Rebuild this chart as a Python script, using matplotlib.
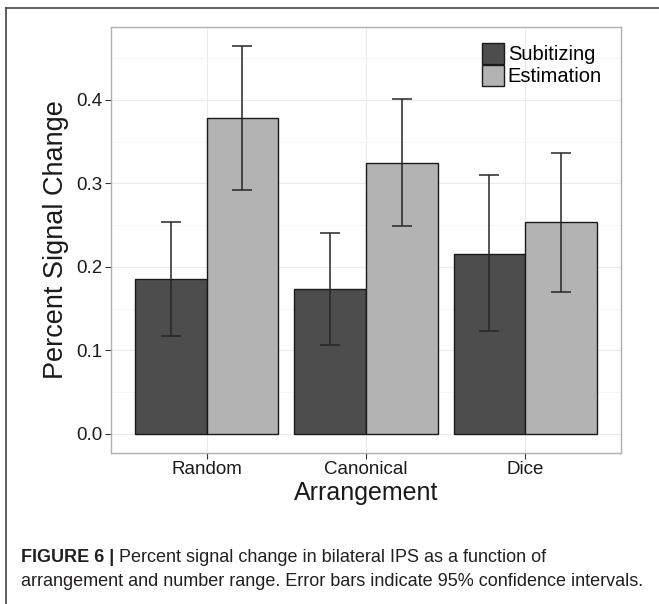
import numpy as np
import matplotlib

matplotlib.use("Agg")

import matplotlib.pyplot as plt
from matplotlib.lines import Line2D
from matplotlib.patches import Patch

arrangements = ["Random", "Canonical", "Dice"]
groups = ["Subitizing", "Estimation"]
group_colors = ["#4d4d4d", "#b3b3b3"]

subitizing_mean = [0.186, 0.174, 0.216]
subitizing_low = [0.117, 0.107, 0.123]
subitizing_high = [0.254, 0.241, 0.310]

estimation_mean = [0.378, 0.325, 0.254]
estimation_low = [0.292, 0.249, 0.170]
estimation_high = [0.465, 0.401, 0.336]

y_ticks = [0.0, 0.1, 0.2, 0.3, 0.4]
caption_bold = "FIGURE 6 |"
caption_line1 = " Percent signal change in bilateral IPS as a function of"
caption_line2 = "arrangement and number range. Error bars indicate 95% confidence intervals."

plt.rcParams["font.family"] = ["Liberation Sans", "DejaVu Sans"]

fig = plt.figure(figsize=(6.59, 6.04), dpi=100)
ax = fig.add_axes([0.1684, 0.25, 0.7739, 0.7053])

x = np.arange(1, len(arrangements) + 1)
bar_width = 0.45
series = [
    (subitizing_mean, subitizing_low, subitizing_high),
    (estimation_mean, estimation_low, estimation_high),
]

for i, (means, lows, highs) in enumerate(series):
    means = np.array(means)
    offset = (i - 0.5) * bar_width
    ax.bar(
        x + offset,
        means,
        width=bar_width,
        color=group_colors[i],
        edgecolor="#1a1a1a",
        linewidth=1.0,
        zorder=2,
    )
    yerr = [means - np.array(lows), np.array(highs) - means]
    ax.errorbar(
        x + offset,
        means,
        yerr=yerr,
        fmt="none",
        ecolor="#262626",
        elinewidth=1.1,
        capsize=7,
        capthick=1.1,
        zorder=3,
    )

ax.set_xlim(0.4, 3.6)
ax.set_ylim(-0.0228, 0.4874)
ax.set_xticks(x)
ax.set_xticklabels(arrangements)
ax.set_yticks(y_ticks)
ax.set_yticklabels([f"{t:.1f}" for t in y_ticks])
ax.set_yticks(np.arange(0.05, 0.5, 0.1), minor=True)

ax.grid(True, which="major", color="#ebebeb", linewidth=0.8, zorder=0)
ax.grid(True, which="minor", axis="y", color="#f5f5f5", linewidth=0.6, zorder=0)
ax.set_axisbelow(True)

for spine in ax.spines.values():
    spine.set_color("#b0b0b0")
    spine.set_linewidth(1.0)

ax.tick_params(axis="both", which="major", length=4, width=0.8, color="#333333",
               labelsize=13.5, labelcolor="#1a1a1a", pad=2)
ax.tick_params(axis="both", which="minor", length=0)

ax.set_xlabel("Arrangement", fontsize=18, color="#1a1a1a", labelpad=2)
ax.set_ylabel("Percent Signal Change", fontsize=19.5, color="#1a1a1a", labelpad=5)

handles = [
    Patch(facecolor=group_colors[i], edgecolor="#1a1a1a", linewidth=1.0, label=groups[i])
    for i in range(len(groups))
]
ax.legend(
    handles=handles,
    loc="upper right",
    bbox_to_anchor=(0.99, 0.995),
    frameon=False,
    fontsize=14.5,
    handlelength=1.08,
    handleheight=1.2,
    handletextpad=0.2,
    labelspacing=0.05,
    borderpad=0.2,
)

# outer figure frame (top and left edges only visible)
fig.add_artist(Line2D([6 / 659, 1.0], [1 - 8 / 604, 1 - 8 / 604], color="#444444",
                      linewidth=1.2, transform=fig.transFigure))
fig.add_artist(Line2D([6 / 659, 6 / 659], [0.0, 1 - 8 / 604], color="#444444",
                      linewidth=1.2, transform=fig.transFigure))

caption_color = "#231f20"
bold_text = fig.text(21 / 659, 1 - 557 / 604, caption_bold, fontsize=13, fontweight="bold",
                     color=caption_color, va="center", ha="left")
fig.canvas.draw()
bbox = bold_text.get_window_extent(renderer=fig.canvas.get_renderer())
fig.text(bbox.x1 / fig.bbox.width, 1 - 557 / 604, caption_line1, fontsize=13,
         color=caption_color, va="center", ha="left")
fig.text(21 / 659, 1 - 582 / 604, caption_line2, fontsize=13,
         color=caption_color, va="center", ha="left")

fig.savefig("out.png", dpi=100, facecolor="white")
plt.close(fig)
